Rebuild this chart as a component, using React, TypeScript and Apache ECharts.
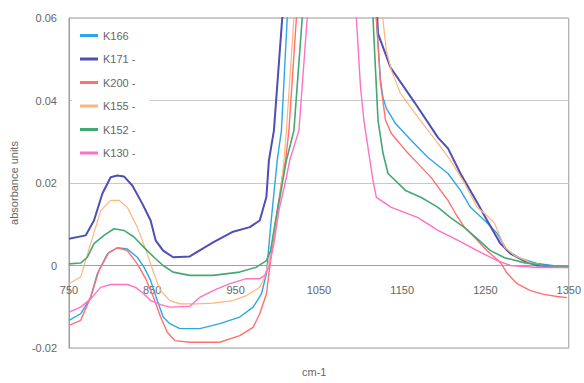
import React, { useEffect, useRef } from "react";
import * as echarts from "echarts";

const seriesNames = ["K166", "K171 -", "K200 -", "K155 -", "K152 -", "K130 -"];
const seriesColors = ["#2ea6e6", "#4f4fb3", "#ff7070", "#ffb47c", "#44a872", "#ff70c8"];

const xTicks = [750, 850, 950, 1050, 1150, 1250, 1350];
const yTicks = [-0.02, 0, 0.02, 0.04, 0.06];

const k166: [number, number][] = [
  [750, -0.0133], [764, -0.0117], [776, -0.0077], [784, -0.002], [796, 0.0028], [808, 0.0043],
  [820, 0.004], [832, 0.002], [840, -0.0004], [848, -0.0036], [856, -0.0085], [863, -0.0125],
  [871, -0.0141], [883, -0.0153], [907, -0.0153], [931, -0.0141], [955, -0.0125], [971, -0.0101],
  [981, -0.0069], [987, -0.002], [992, 0.0093], [996, 0.0175], [1000, 0.0255], [1005, 0.0327],
  [1012, 0.06], [1060, 0.1], [1112, 0.08], [1119, 0.06], [1124, 0.0448], [1127, 0.0407],
  [1131, 0.0381], [1142, 0.0344], [1161, 0.0303], [1181, 0.0262], [1205, 0.0223], [1220, 0.0182],
  [1232, 0.0141], [1249, 0.0109], [1264, 0.0078], [1276, 0.0036], [1292, 0.0017], [1312, 0.0005],
  [1348, -0.0005],
];

const k171: [number, number][] = [
  [750, 0.0065], [770, 0.0073], [780, 0.0109], [790, 0.0174], [800, 0.0214], [808, 0.0218],
  [816, 0.0216], [826, 0.0194], [838, 0.015], [848, 0.0109], [854, 0.0061], [863, 0.0036],
  [875, 0.002], [895, 0.0022], [903, 0.0032], [923, 0.0056], [947, 0.0082], [967, 0.0093],
  [979, 0.0109], [987, 0.0166], [990, 0.0255], [996, 0.0327], [1006, 0.06], [1060, 0.1],
  [1115, 0.08], [1121, 0.0562], [1136, 0.048], [1165, 0.0395], [1193, 0.031], [1205, 0.0284],
  [1220, 0.0223], [1240, 0.0153], [1252, 0.0109], [1268, 0.0053], [1280, 0.0029], [1296, 0.0012],
  [1312, 0.0], [1350, -0.0003],
];

const k200: [number, number][] = [
  [750, -0.0145], [764, -0.0133], [776, -0.0077], [786, -0.0012], [798, 0.0032], [808, 0.0043],
  [820, 0.0036], [832, 0.0004], [842, -0.0032], [850, -0.0069], [860, -0.0125], [868, -0.0162],
  [877, -0.0182], [895, -0.0186], [931, -0.0186], [955, -0.017], [971, -0.015], [979, -0.0117],
  [987, -0.0069], [992, 0.0012], [1000, 0.0133], [1006, 0.0214], [1010, 0.0255], [1014, 0.0327],
  [1023, 0.06], [1070, 0.1], [1112, 0.08], [1119, 0.06], [1124, 0.0441], [1130, 0.0352],
  [1137, 0.032], [1154, 0.0279], [1169, 0.0247], [1185, 0.0213], [1196, 0.0182], [1205, 0.0158],
  [1214, 0.0126], [1225, 0.0092], [1237, 0.0068], [1252, 0.0036], [1268, 0.0007], [1276, -0.0019],
  [1288, -0.0044], [1304, -0.0061], [1320, -0.007], [1336, -0.0075], [1348, -0.0078],
];

const k155: [number, number][] = [
  [750, -0.0044], [764, -0.0028], [776, 0.0053], [788, 0.0133], [800, 0.0158], [810, 0.0158],
  [820, 0.0141], [832, 0.0093], [844, 0.0028], [852, -0.002], [860, -0.0061], [871, -0.0085],
  [883, -0.0093], [903, -0.0093], [923, -0.0091], [947, -0.0085], [963, -0.0073], [979, -0.0053],
  [985, -0.0028], [990, 0.0012], [998, 0.0093], [1004, 0.0175], [1008, 0.0255], [1011, 0.0327],
  [1020, 0.06], [1070, 0.1], [1120, 0.08], [1127, 0.0594], [1131, 0.0521], [1137, 0.0473],
  [1148, 0.0417], [1169, 0.0359], [1193, 0.0296], [1208, 0.0255], [1225, 0.0199], [1240, 0.0141],
  [1249, 0.0126], [1261, 0.0102], [1273, 0.0044], [1285, 0.0024], [1304, 0.0007], [1320, 0.0],
  [1350, -0.0002],
];

const k152: [number, number][] = [
  [750, 0.0004], [764, 0.0006], [772, 0.002], [780, 0.0053], [792, 0.0073], [804, 0.0089],
  [816, 0.0085], [828, 0.0069], [840, 0.0044], [852, 0.002], [863, 0.0], [875, -0.0016],
  [895, -0.0024], [923, -0.0024], [955, -0.0016], [975, -0.0004], [987, 0.0012], [992, 0.0036],
  [998, 0.0109], [1004, 0.0175], [1011, 0.0255], [1020, 0.0327], [1030, 0.06], [1075, 0.1],
  [1110, 0.08], [1115, 0.06], [1118, 0.0473], [1121, 0.0352], [1127, 0.0272], [1133, 0.0223],
  [1154, 0.0182], [1173, 0.0165], [1193, 0.0141], [1208, 0.0116], [1225, 0.0092], [1240, 0.0065],
  [1256, 0.0036], [1273, 0.0019], [1296, 0.0007], [1320, 0.0], [1350, -0.0003],
];

const k130: [number, number][] = [
  [750, -0.0113], [764, -0.0101], [776, -0.0081], [788, -0.0053], [800, -0.0046], [820, -0.0046],
  [830, -0.0053], [840, -0.0069], [848, -0.0085], [860, -0.0095], [871, -0.0101], [895, -0.0099],
  [907, -0.0077], [923, -0.0061], [943, -0.0044], [963, -0.0032], [979, -0.0032], [985, -0.0024],
  [990, -0.0004], [996, 0.0053], [1002, 0.0133], [1011, 0.0214], [1015, 0.0255], [1026, 0.0327],
  [1036, 0.06], [1065, 0.1], [1090, 0.08], [1095, 0.06], [1100, 0.0432], [1104, 0.0352],
  [1110, 0.0272], [1115, 0.0206], [1119, 0.0165], [1137, 0.0141], [1169, 0.0116], [1193, 0.0085],
  [1217, 0.0061], [1240, 0.0036], [1264, 0.0012], [1280, 0.0], [1312, -0.0005], [1350, -0.0005],
];

const seriesData = [k166, k171, k200, k155, k152, k130];
const lineWidths = [1.4, 2, 1.4, 1.2, 1.6, 1.4];

export default function App() {
  const ref = useRef<HTMLDivElement>(null);
  useEffect(() => {
    if (!ref.current) return;
    const chart = echarts.init(ref.current, undefined, { renderer: "svg" });
    const font = "'Liberation Sans', Arial, sans-serif";
    chart.setOption({
      animation: false,
      backgroundColor: "#ffffff",
      textStyle: { fontFamily: font },
      grid: {
        left: 68,
        right: 12,
        top: 18,
        bottom: 35,
        show: true,
        borderColor: "#9a9a9a",
        borderWidth: 1,
      },
      legend: {
        orient: "vertical",
        left: 72,
        top: 26,
        icon: "rect",
        itemWidth: 18,
        itemHeight: 3,
        itemGap: 12.5,
        backgroundColor: "#ffffff",
        padding: [4, 14, 4, 8],
        textStyle: { fontSize: 11, color: "#666", fontFamily: font },
        data: seriesNames,
      },
      xAxis: {
        type: "value",
        min: xTicks[0],
        max: xTicks[xTicks.length - 1],
        interval: 100,
        offset: -82.5,
        axisLine: { onZero: false, lineStyle: { color: "#a0a0a0", width: 1 } },
        axisTick: { show: false },
        splitLine: { show: false },
        axisLabel: {
          color: "#666",
          fontSize: 11,
          margin: 19,
          showMinLabel: true,
          showMaxLabel: true,
          formatter: (v: number) => String(v),
        },
      },
      yAxis: {
        type: "value",
        min: yTicks[0],
        max: yTicks[yTicks.length - 1],
        interval: 0.02,
        name: "absorbance units",
        nameLocation: "middle",
        nameGap: 50,
        nameRotate: 90,
        nameTextStyle: { color: "#666", fontSize: 11, fontFamily: font },
        axisLine: { show: true, lineStyle: { color: "#a0a0a0" } },
        axisTick: { show: false },
        splitLine: { show: true, lineStyle: { color: "#c8c8c8", width: 1 } },
        axisLabel: {
          color: "#666",
          fontSize: 11,
          margin: 12,
          formatter: (v: number) => (Math.abs(v) < 1e-9 ? "0" : v.toFixed(2)),
        },
      },
      graphic: [
        {
          type: "text",
          left: 302,
          top: 366,
          style: { text: "cm-1", fill: "#666", fontSize: 11, fontFamily: font },
        },
      ],
      series: seriesData.map((d, i) => ({
        name: seriesNames[i],
        type: "line",
        data: d,
        showSymbol: false,
        clip: true,
        lineStyle: { color: seriesColors[i], width: lineWidths[i] },
        itemStyle: { color: seriesColors[i] },
      })),
    });
    return () => chart.dispose();
  }, []);
  return <div ref={ref} style={{ position: "fixed", left: 0, top: 0, width: 584, height: 383 }} />;
}
